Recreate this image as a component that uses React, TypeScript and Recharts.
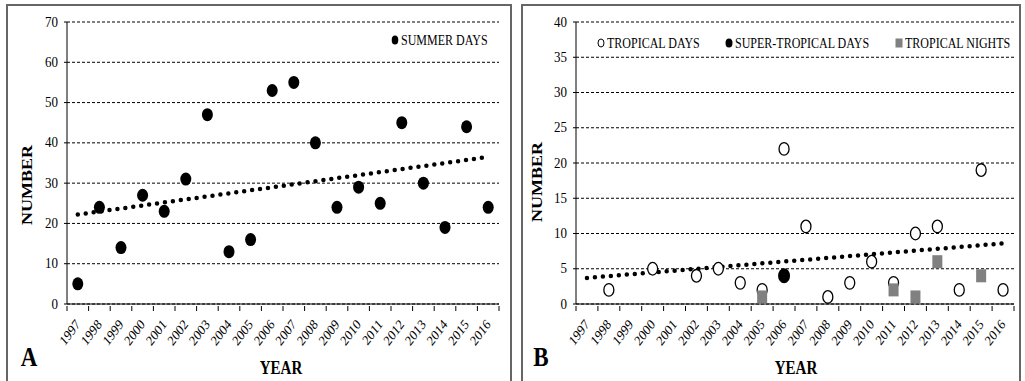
import React from "react";
import { ComposedChart, Line, XAxis, YAxis, CartesianGrid } from "recharts";

const FONT = "Liberation Serif, DejaVu Serif, serif";

const years = [
  "1997", "1998", "1999", "2000", "2001", "2002", "2003", "2004", "2005", "2006",
  "2007", "2008", "2009", "2010", "2011", "2012", "2013", "2014", "2015", "2016",
];

// panel A
const summerDays = [5, 24, 14, 27, 23, 31, 47, 13, 16, 53, 55, 40, 24, 29, 25, 45, 30, 19, 44, 24];
const summerTrend = [22.2, 36.5]; // first / last year of the dotted linear trend
const ticksA = [0, 10, 20, 30, 40, 50, 60, 70];

// panel B
const tropicalDays = [null, 2, null, 5, null, 4, 5, 3, 2, 22, 11, 1, 3, 6, 3, 10, 11, 2, 19, 2];
const superTropicalDays = [null, null, null, null, null, null, null, null, null, 4, null, null, null, null, null, null, null, null, null, null];
const tropicalNights = [null, null, null, null, null, null, null, null, 1, null, null, null, null, null, 2, 1, 6, null, 4, null];
const tropicalTrend = [3.7, 8.6];
const ticksB = [0, 5, 10, 15, 20, 25, 30, 35, 40];

const endpoints = (trend: number[], i: number) =>
  i === 0 ? trend[0] : i === years.length - 1 ? trend[1] : null;

const dataA = years.map((year, i) => ({
  year,
  summer: summerDays[i],
  trend: endpoints(summerTrend, i),
}));

const dataB = years.map((year, i) => ({
  year,
  tropical: tropicalDays[i],
  superTropical: superTropicalDays[i],
  nights: tropicalNights[i],
  trend: endpoints(tropicalTrend, i),
}));

const STRETCH = 1.2;

const XTick = (props: any) => {
  const { x, y, payload } = props;
  const off = payload.offset ?? 0;
  const last = payload.value === years[years.length - 1];
  return (
    <g>
      <line x1={x - off} x2={x - off} y1={y} y2={y + 5} stroke="#000" />
      {last && <line x1={x + off} x2={x + off} y1={y} y2={y + 5} stroke="#000" />}
      <text
        transform={`translate(${x + 3},${y + 19}) scale(1,${STRETCH}) rotate(-48)`}
        textAnchor="end"
        fontFamily={FONT}
        fontSize={12}
        fill="#000"
      >
        {payload.value}
      </text>
    </g>
  );
};

const YTick = (props: any) => {
  const { x, y, payload } = props;
  return (
    <text
      transform={`translate(${x},${y + 4.5}) scale(1,${STRETCH})`}
      textAnchor="end"
      fontFamily={FONT}
      fontSize={13}
      fill="#000"
    >
      {payload.value}
    </text>
  );
};

const filledDot = (rx: number, ry: number) => (p: any) =>
  p.cy == null ? <g key={p.index} /> : <ellipse key={p.index} cx={p.cx} cy={p.cy} rx={rx} ry={ry} fill="#000" />;

const openDot = (p: any) =>
  p.cy == null ? (
    <g key={p.index} />
  ) : (
    <ellipse key={p.index} cx={p.cx} cy={p.cy} rx={5} ry={6.3} fill="#fff" stroke="#000" strokeWidth={1.3} />
  );

const squareDot = (p: any) =>
  p.cy == null ? <g key={p.index} /> : <rect key={p.index} x={p.cx - 5} y={p.cy - 6.5} width={10} height={13} fill="#808080" />;

// centred, vertically stretched text overlay
const Txt = ({ x, y, size, bold, rot, children }: any) => (
  <div style={{ position: "absolute", left: x, top: y, width: 0, height: 0 }}>
    <div
      style={{
        position: "absolute",
        left: 0,
        top: 0,
        transformOrigin: "0 0",
        transform: `scaleY(${STRETCH}) rotate(${rot ?? 0}deg) translate(-50%,-50%)`,
        fontFamily: FONT,
        fontSize: size,
        fontWeight: bold ? "bold" : "normal",
        whiteSpace: "nowrap",
        lineHeight: 1,
        color: "#000",
      }}
    >
      {children}
    </div>
  </div>
);

const LegendItem = ({ x, y, marker, label }: any) => (
  <>
    <svg style={{ position: "absolute", left: x - 6, top: y - 6 }} width={12} height={12}>
      {marker}
    </svg>
    <div
      style={{
        position: "absolute",
        left: x + 6,
        top: y - 7,
        transformOrigin: "0 50%",
        transform: `scaleY(${STRETCH})`,
        fontFamily: FONT,
        fontSize: 12,
        lineHeight: "14px",
        whiteSpace: "nowrap",
        color: "#000",
      }}
    >
      {label}
    </div>
  </>
);

const frame = (left: number, width: number): React.CSSProperties => ({
  position: "absolute",
  left,
  top: 4,
  width,
  height: 390,
  border: "2px solid #666",
  borderBottom: "none",
  boxSizing: "border-box",
});

const axisCommon = {
  stroke: "#000",
};

const App = () => {
  return (
    <div style={{ position: "absolute", left: 0, top: 0, width: 1025, height: 381, background: "#fff", overflow: "hidden" }}>
      <div style={frame(6, 506)} />
      <div style={frame(521, 500)} />

      <div style={{ position: "absolute", left: 0, top: 0 }}>
        <ComposedChart width={512} height={381} data={dataA} margin={{ top: 22, right: 13, bottom: 0, left: 17 }}>
          <CartesianGrid vertical={false} stroke="#000" strokeDasharray="3 2" />
          <XAxis
            dataKey="year"
            type="category"
            scale="band"
            interval={0}
            height={77}
            tickLine={false}
            tickSize={0}
            tick={<XTick />}
            axisLine={axisCommon}
          />
          <YAxis
            width={50}
            domain={[0, 70]}
            ticks={ticksA}
            interval={0}
            tickSize={3}
            tickMargin={6}
            tickLine={axisCommon}
            axisLine={axisCommon}
            tick={<YTick />}
          />
          <Line
            dataKey="trend"
            connectNulls
            stroke="#000"
            strokeWidth={4.5}
            strokeLinecap="round"
            strokeDasharray="0 8"
            dot={false}
            activeDot={false}
            legendType="none"
            isAnimationActive={false}
          />
          <Line
            dataKey="summer"
            name="SUMMER DAYS"
            stroke="none"
            dot={filledDot(5.5, 6.5)}
            activeDot={false}
            isAnimationActive={false}
          />
        </ComposedChart>
      </div>

      <div style={{ position: "absolute", left: 512, top: 0 }}>
        <ComposedChart width={513} height={381} data={dataB} margin={{ top: 22, right: 11, bottom: 0, left: 14 }}>
          <CartesianGrid vertical={false} stroke="#000" strokeDasharray="3 2" />
          <XAxis
            dataKey="year"
            type="category"
            scale="band"
            interval={0}
            height={77}
            tickLine={false}
            tickSize={0}
            tick={<XTick />}
            axisLine={axisCommon}
          />
          <YAxis
            width={50}
            domain={[0, 40]}
            ticks={ticksB}
            interval={0}
            tickSize={3}
            tickMargin={6}
            tickLine={axisCommon}
            axisLine={axisCommon}
            tick={<YTick />}
          />
          <Line
            dataKey="trend"
            connectNulls
            stroke="#000"
            strokeWidth={4.5}
            strokeLinecap="round"
            strokeDasharray="0 8"
            dot={false}
            activeDot={false}
            legendType="none"
            isAnimationActive={false}
          />
          <Line dataKey="tropical" name="TROPICAL DAYS" stroke="none" dot={openDot} activeDot={false} isAnimationActive={false} />
          <Line dataKey="superTropical" name="SUPER-TROPICAL DAYS" stroke="none" dot={filledDot(6, 7.5)} activeDot={false} isAnimationActive={false} />
          <Line dataKey="nights" name="TROPICAL NIGHTS" stroke="none" dot={squareDot} activeDot={false} isAnimationActive={false} />
        </ComposedChart>
      </div>

      {/* legends */}
      <LegendItem x={395} y={40} label="SUMMER DAYS" marker={<ellipse cx={6} cy={6} rx={3.3} ry={4.5} fill="#000" />} />
      <LegendItem
        x={601}
        y={43}
        label="TROPICAL DAYS"
        marker={<ellipse cx={6} cy={6} rx={3} ry={4} fill="#fff" stroke="#000" strokeWidth={1} />}
      />
      <LegendItem x={729} y={43} label="SUPER-TROPICAL DAYS" marker={<ellipse cx={6} cy={6} rx={3.5} ry={4.5} fill="#000" />} />
      <LegendItem x={899} y={43} label="TROPICAL NIGHTS" marker={<rect x={2.5} y={1.5} width={7} height={9} fill="#808080" />} />

      {/* axis titles and panel letters */}
      <Txt x={27} y={185} size={15} bold rot={-90}>NUMBER</Txt>
      <Txt x={281} y={369} size={15} bold>YEAR</Txt>
      <Txt x={29} y={357} size={23} bold>A</Txt>

      <Txt x={537} y={182} size={15} bold rot={-90}>NUMBER</Txt>
      <Txt x={796} y={369} size={15} bold>YEAR</Txt>
      <Txt x={541} y={357} size={23} bold>B</Txt>
    </div>
  );
};

export default App;
